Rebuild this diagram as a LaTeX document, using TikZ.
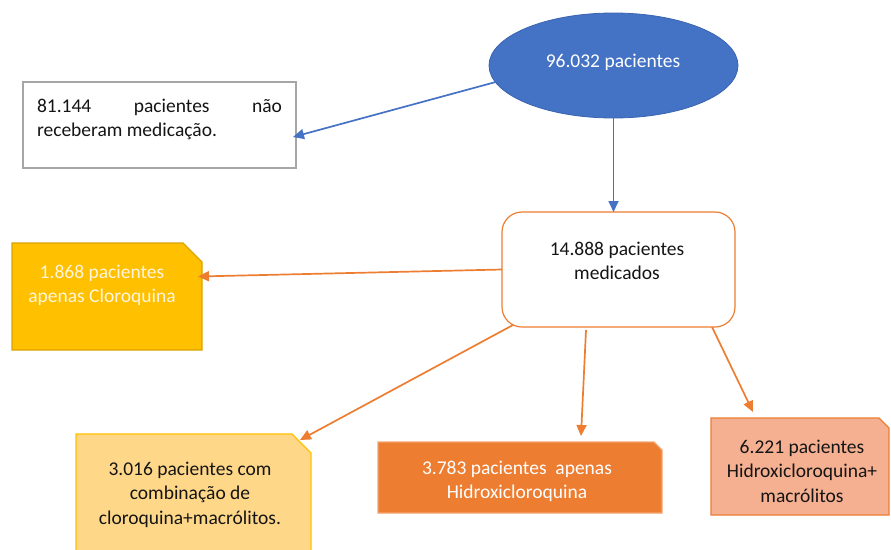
\documentclass[tikz,border=0pt]{standalone}
\usepackage{fontspec}
\setmainfont{Carlito}
\usetikzlibrary{shapes.geometric,arrows.meta,calc}
\definecolor{eblue}{HTML}{4472C4}
\definecolor{eblueD}{HTML}{3A64B0}
\definecolor{orng}{HTML}{ED7D31}
\definecolor{orngL}{HTML}{F4A46E}
\definecolor{gold}{HTML}{FFC000}
\definecolor{goldD}{HTML}{D9A400}
\definecolor{lyel}{HTML}{FFD788}
\definecolor{salm}{HTML}{F5B091}
\definecolor{grayb}{HTML}{A6A6A6}
\definecolor{txtc}{HTML}{151515}
\definecolor{cream}{HTML}{FFF4DC}
\newcommand{\mylines}[1]{\begin{tabular}[t]{@{}c@{}}#1\end{tabular}}
\begin{document}
\begin{tikzpicture}[x=1pt,y=-1pt,
  every node/.style={font=\fontsize{19.5}{24.5}\selectfont, inner sep=0pt, outer sep=0pt, text=txtc},
  boxn/.style={rectangle, draw=none, anchor=north west},
  tx/.style={anchor=base},
  conn/.style={line width=1.7pt, -{Triangle[length=11pt,width=10pt]}},
  snip/.style={line width=1.2pt, line join=miter}]
\useasboundingbox (0,0) rectangle (891,549);
\clip (0,0) rectangle (891,549);
% shapes
\node[ellipse, fill=eblue, draw=eblueD, line width=0.8pt, minimum width=249pt, minimum height=105pt] (ell) at (613.5,65.5) {};
\node[boxn, draw=grayb, fill=white, line width=1.2pt, minimum width=273pt, minimum height=86pt] (wb) at (23,82) {};
\node[boxn, draw=orng, fill=white, line width=1.2pt, rounded corners=20pt, minimum width=233pt, minimum height=115pt] (rb) at (502,212) {};
\node[boxn, minimum width=190pt, minimum height=107pt] (yb) at (12,243) {};
\node[boxn, minimum width=235pt, minimum height=135pt] (ly) at (76,434) {};
\node[boxn, minimum width=284pt, minimum height=71pt] (ob) at (378,442) {};
\node[boxn, minimum width=178pt, minimum height=97pt] (sb) at (711,418) {};
\draw[snip, fill=gold, draw=goldD] (yb.north west) -- ($(yb.north east)+(-19,0)$) -- ($(yb.north east)+(0,19)$) -- (yb.south east) -- (yb.south west) -- cycle;
\draw[snip, fill=lyel, draw=gold] (ly.north west) -- ($(ly.north east)+(-19,0)$) -- ($(ly.north east)+(0,19)$) -- (ly.south east) -- (ly.south west) -- cycle;
\draw[snip, fill=orng, draw=orngL] (ob.north west) -- ($(ob.north east)+(-8,0)$) -- ($(ob.north east)+(0,8)$) -- (ob.south east) -- (ob.south west) -- cycle;
\draw[snip, fill=salm, draw=orng] (sb.north west) -- ($(sb.north east)+(-10,0)$) -- ($(sb.north east)+(0,10)$) -- (sb.south east) -- (sb.south west) -- cycle;
% texts
\node[tx, text=white] (tell) at (613,67) {96.032 pacientes};
\node[anchor=base west] (twb) at (37,112) {\parbox[t]{245pt}{81.144\hfill pacientes\hfill não\\receberam medicação.}};
\node[tx] (trb) at (617,255) {\mylines{14.888 pacientes\\medicados}};
\node[tx, text=cream] (tyb) at (102,278) {\mylines{1.868 pacientes\\apenas Cloroquina}};
\node[tx] (tly) at (190,475) {\mylines{3.016 pacientes com\\combinação de\\cloroquina+macrólitos.}};
\node[tx, text=white] (tob) at (517,474) {\mylines{3.783 pacientes\ \ apenas\\Hidroxicloroquina}};
\node[tx] (tsb) at (802,453) {\mylines{6.221 pacientes\\Hidroxicloroquina+\\macrólitos}};
% connectors
\draw[conn, eblue] (ell.188) -- ($(wb.east)+(-3,12)$);
\draw[conn, eblue] (ell.south) -- (ell.south |- rb.north);
\draw[conn, orng] (rb.west) -- ($(yb.east)+(-4,-20)$);
\draw[conn, orng] ($(rb.south west)+(11,-2)$) -- ($(ly.north east)+(-11,6)$);
\draw[conn, orng] ($(rb.south)+(-32.5,3)$) -- ($(ob.north)+(61,-6)$);
\draw[conn, orng] ($(rb.south east)+(-23,0)$) -- ($(sb.north west)+(42,-6)$);
\end{tikzpicture}
\end{document}
